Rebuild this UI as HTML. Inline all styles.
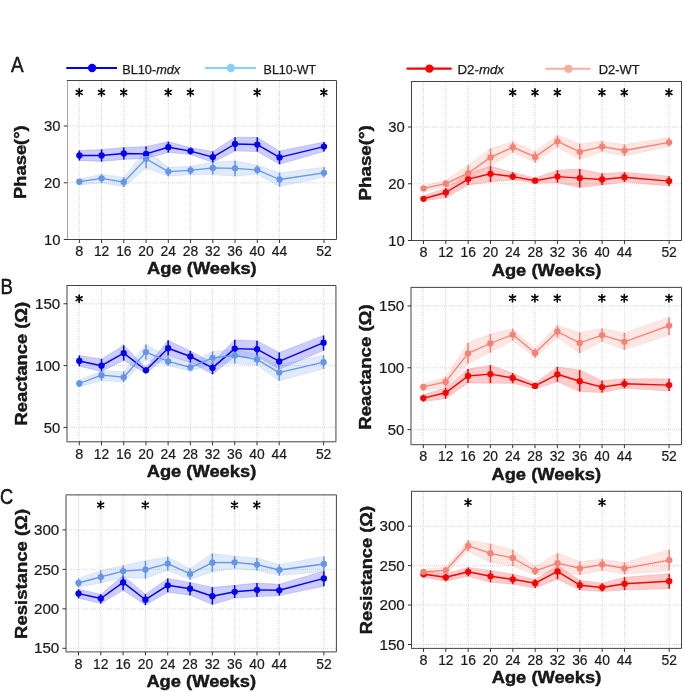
<!DOCTYPE html>
<html><head><meta charset="utf-8"><style>
html,body{margin:0;padding:0;background:#fff;}
body{width:685px;height:692px;overflow:hidden;}
svg{display:block;font-family:"Liberation Sans", sans-serif;will-change:transform;}
text{fill:#1a1a1a;}
.t{stroke:#1a1a1a;stroke-width:0.22;}
</style></head><body>
<svg width="685" height="692" viewBox="0 0 685 692">
<path d="M79.35 81V239.5M101.59 81V239.5M123.83 81V239.5M146.07 81V239.5M168.31 81V239.5M190.55 81V239.5M212.8 81V239.5M235.04 81V239.5M257.28 81V239.5M279.52 81V239.5M324 81V239.5M68 239.5H336.5M68 182.75H336.5M68 126H336.5" stroke="#d4d4d4" stroke-width="0.9" stroke-dasharray="1 1" fill="none"/>
<polygon points="79.35,150.5 101.59,149.6 123.83,147.6 146.07,146.6 168.31,141.7 190.55,147.6 212.8,151.5 235.04,137.3 257.28,137.3 279.52,151 324,142 324,151.5 279.52,164.3 257.28,151.5 235.04,151.1 212.8,162.4 190.55,154.5 168.31,152.5 146.07,158.4 123.83,159.4 101.59,161.4 79.35,160.4" fill="rgba(0,0,255,0.2)" stroke="rgba(0,0,255,0.2)" stroke-width="0.7" stroke-linejoin="round"/>
<polygon points="79.35,179.1 101.59,174.2 123.83,177.2 146.07,149.6 168.31,167.3 190.55,166.3 212.8,162.2 235.04,160.8 257.28,165.3 279.52,172.8 324,167.3 324,177.2 279.52,186.6 257.28,174.2 235.04,176.2 212.8,174.6 190.55,174.8 168.31,176.2 146.07,168.3 123.83,187 101.59,183 79.35,185" fill="rgba(100,149,237,0.2)" stroke="rgba(100,149,237,0.2)" stroke-width="0.7" stroke-linejoin="round"/>
<path d="M79.35 150.5V160.4M101.59 149.6V161.4M123.83 147.6V159.4M146.07 146.6V158.4M168.31 141.7V152.5M190.55 147.6V154.5M212.8 151.5V162.4M235.04 137.3V151.1M257.28 137.3V151.5M279.52 151V164.3M324 142V151.5" stroke="#0000ff" stroke-width="1.5" fill="none"/>
<path d="M79.35 179.1V185M101.59 174.2V183M123.83 177.2V187M146.07 149.6V168.3M168.31 167.3V176.2M190.55 166.3V174.8M212.8 162.2V174.6M235.04 160.8V176.2M257.28 165.3V174.2M279.52 172.8V186.6M324 167.3V177.2" stroke="#6495ed" stroke-width="1.5" fill="none"/>
<polyline points="79.35,155.5 101.59,155.5 123.83,153.5 146.07,153.9 168.31,147.2 190.55,151.1 212.8,157.1 235.04,144 257.28,144.6 279.52,157.4 324,146.6" stroke="#0000ff" stroke-width="1.45" fill="none" stroke-linejoin="round"/>
<circle cx="79.35" cy="155.5" r="3.15" fill="#0000ff"/>
<circle cx="101.59" cy="155.5" r="3.15" fill="#0000ff"/>
<circle cx="123.83" cy="153.5" r="3.15" fill="#0000ff"/>
<circle cx="146.07" cy="153.9" r="3.15" fill="#0000ff"/>
<circle cx="168.31" cy="147.2" r="3.15" fill="#0000ff"/>
<circle cx="190.55" cy="151.1" r="3.15" fill="#0000ff"/>
<circle cx="212.8" cy="157.1" r="3.15" fill="#0000ff"/>
<circle cx="235.04" cy="144" r="3.15" fill="#0000ff"/>
<circle cx="257.28" cy="144.6" r="3.15" fill="#0000ff"/>
<circle cx="279.52" cy="157.4" r="3.15" fill="#0000ff"/>
<circle cx="324" cy="146.6" r="3.15" fill="#0000ff"/>
<polyline points="79.35,181.7 101.59,178.3 123.83,182.1 146.07,158.8 168.31,171.6 190.55,170.3 212.8,167.9 235.04,168.3 257.28,169.9 279.52,179.5 324,172.8" stroke="#6495ed" stroke-width="1.3" fill="none" stroke-linejoin="round"/>
<circle cx="79.35" cy="181.7" r="3.15" fill="#6495ed"/>
<circle cx="101.59" cy="178.3" r="3.15" fill="#6495ed"/>
<circle cx="123.83" cy="182.1" r="3.15" fill="#6495ed"/>
<circle cx="146.07" cy="158.8" r="3.15" fill="#6495ed"/>
<circle cx="168.31" cy="171.6" r="3.15" fill="#6495ed"/>
<circle cx="190.55" cy="170.3" r="3.15" fill="#6495ed"/>
<circle cx="212.8" cy="167.9" r="3.15" fill="#6495ed"/>
<circle cx="235.04" cy="168.3" r="3.15" fill="#6495ed"/>
<circle cx="257.28" cy="169.9" r="3.15" fill="#6495ed"/>
<circle cx="279.52" cy="179.5" r="3.15" fill="#6495ed"/>
<circle cx="324" cy="172.8" r="3.15" fill="#6495ed"/>
<path d="M67.3 80.5H336.5V239.5H67.3" fill="none" stroke="#444" stroke-width="1" stroke-linejoin="miter" stroke-linecap="square"/>
<path d="M67.5 81V239" stroke="#a4a4a4" stroke-width="1"/>
<path d="M79.35 239.5v3.5M101.59 239.5v3.5M123.83 239.5v3.5M146.07 239.5v3.5M168.31 239.5v3.5M190.55 239.5v3.5M212.8 239.5v3.5M235.04 239.5v3.5M257.28 239.5v3.5M279.52 239.5v3.5M324 239.5v3.5M67.3 239.5h-3.5M67.3 182.75h-3.5M67.3 126h-3.5" stroke="#333" stroke-width="1"/>
<text class="t" x="79.35" y="256.2" text-anchor="middle" font-size="15.0" textLength="8.0" lengthAdjust="spacingAndGlyphs">8</text>
<text class="t" x="101.59" y="256.2" text-anchor="middle" font-size="15.0" textLength="15.4" lengthAdjust="spacingAndGlyphs">12</text>
<text class="t" x="123.83" y="256.2" text-anchor="middle" font-size="15.0" textLength="15.4" lengthAdjust="spacingAndGlyphs">16</text>
<text class="t" x="146.07" y="256.2" text-anchor="middle" font-size="15.0" textLength="15.4" lengthAdjust="spacingAndGlyphs">20</text>
<text class="t" x="168.31" y="256.2" text-anchor="middle" font-size="15.0" textLength="15.4" lengthAdjust="spacingAndGlyphs">24</text>
<text class="t" x="190.55" y="256.2" text-anchor="middle" font-size="15.0" textLength="15.4" lengthAdjust="spacingAndGlyphs">28</text>
<text class="t" x="212.8" y="256.2" text-anchor="middle" font-size="15.0" textLength="15.4" lengthAdjust="spacingAndGlyphs">32</text>
<text class="t" x="235.04" y="256.2" text-anchor="middle" font-size="15.0" textLength="15.4" lengthAdjust="spacingAndGlyphs">36</text>
<text class="t" x="257.28" y="256.2" text-anchor="middle" font-size="15.0" textLength="15.4" lengthAdjust="spacingAndGlyphs">40</text>
<text class="t" x="279.52" y="256.2" text-anchor="middle" font-size="15.0" textLength="15.4" lengthAdjust="spacingAndGlyphs">44</text>
<text class="t" x="324" y="256.2" text-anchor="middle" font-size="15.0" textLength="15.4" lengthAdjust="spacingAndGlyphs">52</text>
<text class="t" x="60.6" y="244.65" text-anchor="end" font-size="15.0" textLength="16.5" lengthAdjust="spacingAndGlyphs">10</text>
<text class="t" x="60.6" y="187.9" text-anchor="end" font-size="15.0" textLength="16.5" lengthAdjust="spacingAndGlyphs">20</text>
<text class="t" x="60.6" y="131.15" text-anchor="end" font-size="15.0" textLength="16.5" lengthAdjust="spacingAndGlyphs">30</text>
<text x="201.9" y="273.8" text-anchor="middle" font-size="15.6" font-weight="bold" stroke="#000" stroke-width="0.35" textLength="109.6" lengthAdjust="spacingAndGlyphs">Age (Weeks)</text>
<text transform="translate(25.5 162.15) rotate(-90)" x="0" y="0" text-anchor="middle" font-size="15.6" font-weight="bold" stroke="#000" stroke-width="0.35" textLength="73.7" lengthAdjust="spacingAndGlyphs">Phase(°)</text>
<path d="M79.2 88.7V96.1M76.22 90.47L82.18 94.33M76.22 94.33L82.18 90.47" stroke="#000" stroke-width="1.6" stroke-linecap="round"/>
<path d="M101.44 88.7V96.1M98.46 90.47L104.42 94.33M98.46 94.33L104.42 90.47" stroke="#000" stroke-width="1.6" stroke-linecap="round"/>
<path d="M123.68 88.7V96.1M120.7 90.47L126.66 94.33M120.7 94.33L126.66 90.47" stroke="#000" stroke-width="1.6" stroke-linecap="round"/>
<path d="M168.16 88.7V96.1M165.19 90.47L171.14 94.33M165.19 94.33L171.14 90.47" stroke="#000" stroke-width="1.6" stroke-linecap="round"/>
<path d="M190.4 88.7V96.1M187.43 90.47L193.38 94.33M187.43 94.33L193.38 90.47" stroke="#000" stroke-width="1.6" stroke-linecap="round"/>
<path d="M257.13 88.7V96.1M254.15 90.47L260.1 94.33M254.15 94.33L260.1 90.47" stroke="#000" stroke-width="1.6" stroke-linecap="round"/>
<path d="M323.85 88.7V96.1M320.87 90.47L326.83 94.33M320.87 94.33L326.83 90.47" stroke="#000" stroke-width="1.6" stroke-linecap="round"/>
<path d="M423.5 82V240.5M445.83 82V240.5M468.15 82V240.5M490.48 82V240.5M512.81 82V240.5M535.14 82V240.5M557.46 82V240.5M579.79 82V240.5M602.12 82V240.5M624.45 82V240.5M669.1 82V240.5M412 240.5H681.5M412 183.75H681.5M412 127H681.5" stroke="#d4d4d4" stroke-width="0.9" stroke-dasharray="1 1" fill="none"/>
<polygon points="423.5,195.9 445.83,188 468.15,173.2 490.48,166.3 512.81,172.2 535.14,178.1 557.46,170.3 579.79,168.9 602.12,173.6 624.45,172.2 669.1,176.2 669.1,186 624.45,182.1 602.12,185 579.79,187.4 557.46,182.7 535.14,183.1 512.81,180.1 490.48,182.1 468.15,185 445.83,197.8 423.5,200.8" fill="rgba(255,0,0,0.2)" stroke="rgba(255,0,0,0.2)" stroke-width="0.7" stroke-linejoin="round"/>
<polygon points="423.5,186 445.83,180.1 468.15,165.3 490.48,148.6 512.81,141.7 535.14,151.5 557.46,135.4 579.79,143.7 602.12,141.3 624.45,144.6 669.1,137.7 669.1,146.6 624.45,155.9 602.12,151.5 579.79,159.4 557.46,147.2 535.14,162.4 512.81,152.5 490.48,166.3 468.15,179.1 445.83,187 423.5,191" fill="rgba(250,128,114,0.2)" stroke="rgba(250,128,114,0.2)" stroke-width="0.7" stroke-linejoin="round"/>
<path d="M423.5 195.9V200.8M445.83 188V197.8M468.15 173.2V185M490.48 166.3V182.1M512.81 172.2V180.1M535.14 178.1V183.1M557.46 170.3V182.7M579.79 168.9V187.4M602.12 173.6V185M624.45 172.2V182.1M669.1 176.2V186" stroke="#ff0000" stroke-width="1.5" fill="none"/>
<path d="M423.5 186V191M445.83 180.1V187M468.15 165.3V179.1M490.48 148.6V166.3M512.81 141.7V152.5M535.14 151.5V162.4M557.46 135.4V147.2M579.79 143.7V159.4M602.12 141.3V151.5M624.45 144.6V155.9M669.1 137.7V146.6" stroke="#fa8072" stroke-width="1.5" fill="none"/>
<polyline points="423.5,198.8 445.83,192.5 468.15,179.1 490.48,173.8 512.81,176.6 535.14,180.7 557.46,176.6 579.79,178.1 602.12,179.5 624.45,177.2 669.1,181.1" stroke="#ff0000" stroke-width="1.45" fill="none" stroke-linejoin="round"/>
<circle cx="423.5" cy="198.8" r="3.15" fill="#ff0000"/>
<circle cx="445.83" cy="192.5" r="3.15" fill="#ff0000"/>
<circle cx="468.15" cy="179.1" r="3.15" fill="#ff0000"/>
<circle cx="490.48" cy="173.8" r="3.15" fill="#ff0000"/>
<circle cx="512.81" cy="176.6" r="3.15" fill="#ff0000"/>
<circle cx="535.14" cy="180.7" r="3.15" fill="#ff0000"/>
<circle cx="557.46" cy="176.6" r="3.15" fill="#ff0000"/>
<circle cx="579.79" cy="178.1" r="3.15" fill="#ff0000"/>
<circle cx="602.12" cy="179.5" r="3.15" fill="#ff0000"/>
<circle cx="624.45" cy="177.2" r="3.15" fill="#ff0000"/>
<circle cx="669.1" cy="181.1" r="3.15" fill="#ff0000"/>
<polyline points="423.5,188.4 445.83,183.7 468.15,173.2 490.48,157.4 512.81,147.2 535.14,156.9 557.46,141.3 579.79,151.9 602.12,146.6 624.45,150.5 669.1,142.3" stroke="#fa8072" stroke-width="1.3" fill="none" stroke-linejoin="round"/>
<circle cx="423.5" cy="188.4" r="3.15" fill="#fa8072"/>
<circle cx="445.83" cy="183.7" r="3.15" fill="#fa8072"/>
<circle cx="468.15" cy="173.2" r="3.15" fill="#fa8072"/>
<circle cx="490.48" cy="157.4" r="3.15" fill="#fa8072"/>
<circle cx="512.81" cy="147.2" r="3.15" fill="#fa8072"/>
<circle cx="535.14" cy="156.9" r="3.15" fill="#fa8072"/>
<circle cx="557.46" cy="141.3" r="3.15" fill="#fa8072"/>
<circle cx="579.79" cy="151.9" r="3.15" fill="#fa8072"/>
<circle cx="602.12" cy="146.6" r="3.15" fill="#fa8072"/>
<circle cx="624.45" cy="150.5" r="3.15" fill="#fa8072"/>
<circle cx="669.1" cy="142.3" r="3.15" fill="#fa8072"/>
<path d="M411.5 81.5H681.5V240.5H411.5" fill="none" stroke="#444" stroke-width="1" stroke-linejoin="miter" stroke-linecap="square"/>
<path d="M411.5 82V240" stroke="#444" stroke-width="1"/>
<path d="M423.5 240.5v3.5M445.83 240.5v3.5M468.15 240.5v3.5M490.48 240.5v3.5M512.81 240.5v3.5M535.14 240.5v3.5M557.46 240.5v3.5M579.79 240.5v3.5M602.12 240.5v3.5M624.45 240.5v3.5M669.1 240.5v3.5M411.5 240.5h-3.5M411.5 183.75h-3.5M411.5 127h-3.5" stroke="#333" stroke-width="1"/>
<text class="t" x="423.5" y="257.2" text-anchor="middle" font-size="15.0" textLength="8.0" lengthAdjust="spacingAndGlyphs">8</text>
<text class="t" x="445.83" y="257.2" text-anchor="middle" font-size="15.0" textLength="15.4" lengthAdjust="spacingAndGlyphs">12</text>
<text class="t" x="468.15" y="257.2" text-anchor="middle" font-size="15.0" textLength="15.4" lengthAdjust="spacingAndGlyphs">16</text>
<text class="t" x="490.48" y="257.2" text-anchor="middle" font-size="15.0" textLength="15.4" lengthAdjust="spacingAndGlyphs">20</text>
<text class="t" x="512.81" y="257.2" text-anchor="middle" font-size="15.0" textLength="15.4" lengthAdjust="spacingAndGlyphs">24</text>
<text class="t" x="535.14" y="257.2" text-anchor="middle" font-size="15.0" textLength="15.4" lengthAdjust="spacingAndGlyphs">28</text>
<text class="t" x="557.46" y="257.2" text-anchor="middle" font-size="15.0" textLength="15.4" lengthAdjust="spacingAndGlyphs">32</text>
<text class="t" x="579.79" y="257.2" text-anchor="middle" font-size="15.0" textLength="15.4" lengthAdjust="spacingAndGlyphs">36</text>
<text class="t" x="602.12" y="257.2" text-anchor="middle" font-size="15.0" textLength="15.4" lengthAdjust="spacingAndGlyphs">40</text>
<text class="t" x="624.45" y="257.2" text-anchor="middle" font-size="15.0" textLength="15.4" lengthAdjust="spacingAndGlyphs">44</text>
<text class="t" x="669.1" y="257.2" text-anchor="middle" font-size="15.0" textLength="15.4" lengthAdjust="spacingAndGlyphs">52</text>
<text class="t" x="404.8" y="245.65" text-anchor="end" font-size="15.0" textLength="16.5" lengthAdjust="spacingAndGlyphs">10</text>
<text class="t" x="404.8" y="188.9" text-anchor="end" font-size="15.0" textLength="16.5" lengthAdjust="spacingAndGlyphs">20</text>
<text class="t" x="404.8" y="132.15" text-anchor="end" font-size="15.0" textLength="16.5" lengthAdjust="spacingAndGlyphs">30</text>
<text x="546.5" y="275.9" text-anchor="middle" font-size="15.6" font-weight="bold" stroke="#000" stroke-width="0.35" textLength="109.6" lengthAdjust="spacingAndGlyphs">Age (Weeks)</text>
<text transform="translate(370.5 162.85) rotate(-90)" x="0" y="0" text-anchor="middle" font-size="15.6" font-weight="bold" stroke="#000" stroke-width="0.35" textLength="75.5" lengthAdjust="spacingAndGlyphs">Phase(°)</text>
<path d="M512.66 88.9V96.3M509.68 90.67L515.64 94.53M509.68 94.53L515.64 90.67" stroke="#000" stroke-width="1.6" stroke-linecap="round"/>
<path d="M534.99 88.9V96.3M532.01 90.67L537.96 94.53M532.01 94.53L537.96 90.67" stroke="#000" stroke-width="1.6" stroke-linecap="round"/>
<path d="M557.31 88.9V96.3M554.34 90.67L560.29 94.53M554.34 94.53L560.29 90.67" stroke="#000" stroke-width="1.6" stroke-linecap="round"/>
<path d="M601.97 88.9V96.3M598.99 90.67L604.95 94.53M598.99 94.53L604.95 90.67" stroke="#000" stroke-width="1.6" stroke-linecap="round"/>
<path d="M624.3 88.9V96.3M621.32 90.67L627.27 94.53M621.32 94.53L627.27 90.67" stroke="#000" stroke-width="1.6" stroke-linecap="round"/>
<path d="M668.95 88.9V96.3M665.97 90.67L671.93 94.53M665.97 94.53L671.93 90.67" stroke="#000" stroke-width="1.6" stroke-linecap="round"/>
<path d="M79.3 286V441.8M101.51 286V441.8M123.72 286V441.8M145.93 286V441.8M168.14 286V441.8M190.35 286V441.8M212.55 286V441.8M234.76 286V441.8M256.97 286V441.8M279.18 286V441.8M323.6 286V441.8M68 427.4H335.95M68 365.6H335.95M68 303.76H335.95" stroke="#d4d4d4" stroke-width="0.9" stroke-dasharray="1 1" fill="none"/>
<polygon points="79.3,355.5 101.51,359 123.72,345.2 145.93,367.3 168.14,340.3 190.35,351.1 212.55,362.4 234.76,339.7 256.97,340.7 279.18,352.5 323.6,335.4 323.6,350.5 279.18,369.3 256.97,356.5 234.76,356.5 212.55,374.2 190.35,362.4 168.14,355.5 145.93,373.2 123.72,360.4 101.51,371.6 79.3,366.3" fill="rgba(0,0,255,0.2)" stroke="rgba(0,0,255,0.2)" stroke-width="0.7" stroke-linejoin="round"/>
<polygon points="79.3,380.1 101.51,370.8 123.72,371.6 145.93,344.6 168.14,356.5 190.35,362.4 212.55,351.5 234.76,349.6 256.97,354.5 279.18,364.8 323.6,355.3 323.6,369 279.18,380.8 256.97,365.3 234.76,363.4 212.55,364.3 190.35,371.2 168.14,365.7 145.93,359.4 123.72,382.1 101.51,380.7 79.3,387" fill="rgba(100,149,237,0.2)" stroke="rgba(100,149,237,0.2)" stroke-width="0.7" stroke-linejoin="round"/>
<path d="M79.3 355.5V366.3M101.51 359V371.6M123.72 345.2V360.4M145.93 367.3V373.2M168.14 340.3V355.5M190.35 351.1V362.4M212.55 362.4V374.2M234.76 339.7V356.5M256.97 340.7V356.5M279.18 352.5V369.3M323.6 335.4V350.5" stroke="#0000ff" stroke-width="1.5" fill="none"/>
<path d="M79.3 380.1V387M101.51 370.8V380.7M123.72 371.6V382.1M145.93 344.6V359.4M168.14 356.5V365.7M190.35 362.4V371.2M212.55 351.5V364.3M234.76 349.6V363.4M256.97 354.5V365.3M279.18 364.8V380.8M323.6 355.3V369" stroke="#6495ed" stroke-width="1.5" fill="none"/>
<polyline points="79.3,361 101.51,365.7 123.72,353.1 145.93,370.3 168.14,348.2 190.35,356.5 212.55,367.9 234.76,348.6 256.97,349.2 279.18,361.4 323.6,342.7" stroke="#0000ff" stroke-width="1.45" fill="none" stroke-linejoin="round"/>
<circle cx="79.3" cy="361" r="3.15" fill="#0000ff"/>
<circle cx="101.51" cy="365.7" r="3.15" fill="#0000ff"/>
<circle cx="123.72" cy="353.1" r="3.15" fill="#0000ff"/>
<circle cx="145.93" cy="370.3" r="3.15" fill="#0000ff"/>
<circle cx="168.14" cy="348.2" r="3.15" fill="#0000ff"/>
<circle cx="190.35" cy="356.5" r="3.15" fill="#0000ff"/>
<circle cx="212.55" cy="367.9" r="3.15" fill="#0000ff"/>
<circle cx="234.76" cy="348.6" r="3.15" fill="#0000ff"/>
<circle cx="256.97" cy="349.2" r="3.15" fill="#0000ff"/>
<circle cx="279.18" cy="361.4" r="3.15" fill="#0000ff"/>
<circle cx="323.6" cy="342.7" r="3.15" fill="#0000ff"/>
<polyline points="79.3,383.5 101.51,375.2 123.72,377.2 145.93,352.1 168.14,361.4 190.35,367.3 212.55,357.8 234.76,355.5 256.97,359.4 279.18,372.6 323.6,362.2" stroke="#6495ed" stroke-width="1.3" fill="none" stroke-linejoin="round"/>
<circle cx="79.3" cy="383.5" r="3.15" fill="#6495ed"/>
<circle cx="101.51" cy="375.2" r="3.15" fill="#6495ed"/>
<circle cx="123.72" cy="377.2" r="3.15" fill="#6495ed"/>
<circle cx="145.93" cy="352.1" r="3.15" fill="#6495ed"/>
<circle cx="168.14" cy="361.4" r="3.15" fill="#6495ed"/>
<circle cx="190.35" cy="367.3" r="3.15" fill="#6495ed"/>
<circle cx="212.55" cy="357.8" r="3.15" fill="#6495ed"/>
<circle cx="234.76" cy="355.5" r="3.15" fill="#6495ed"/>
<circle cx="256.97" cy="359.4" r="3.15" fill="#6495ed"/>
<circle cx="279.18" cy="372.6" r="3.15" fill="#6495ed"/>
<circle cx="323.6" cy="362.2" r="3.15" fill="#6495ed"/>
<path d="M67 285.5H335.95V441.8H67" fill="none" stroke="#444" stroke-width="1" stroke-linejoin="miter" stroke-linecap="square"/>
<path d="M67 286V441.3" stroke="#444" stroke-width="1"/>
<path d="M79.3 441.8v3.5M101.51 441.8v3.5M123.72 441.8v3.5M145.93 441.8v3.5M168.14 441.8v3.5M190.35 441.8v3.5M212.55 441.8v3.5M234.76 441.8v3.5M256.97 441.8v3.5M279.18 441.8v3.5M323.6 441.8v3.5M67 427.4h-3.5M67 365.6h-3.5M67 303.76h-3.5" stroke="#333" stroke-width="1"/>
<text class="t" x="79.3" y="458.5" text-anchor="middle" font-size="15.0" textLength="8.0" lengthAdjust="spacingAndGlyphs">8</text>
<text class="t" x="101.51" y="458.5" text-anchor="middle" font-size="15.0" textLength="15.4" lengthAdjust="spacingAndGlyphs">12</text>
<text class="t" x="123.72" y="458.5" text-anchor="middle" font-size="15.0" textLength="15.4" lengthAdjust="spacingAndGlyphs">16</text>
<text class="t" x="145.93" y="458.5" text-anchor="middle" font-size="15.0" textLength="15.4" lengthAdjust="spacingAndGlyphs">20</text>
<text class="t" x="168.14" y="458.5" text-anchor="middle" font-size="15.0" textLength="15.4" lengthAdjust="spacingAndGlyphs">24</text>
<text class="t" x="190.35" y="458.5" text-anchor="middle" font-size="15.0" textLength="15.4" lengthAdjust="spacingAndGlyphs">28</text>
<text class="t" x="212.55" y="458.5" text-anchor="middle" font-size="15.0" textLength="15.4" lengthAdjust="spacingAndGlyphs">32</text>
<text class="t" x="234.76" y="458.5" text-anchor="middle" font-size="15.0" textLength="15.4" lengthAdjust="spacingAndGlyphs">36</text>
<text class="t" x="256.97" y="458.5" text-anchor="middle" font-size="15.0" textLength="15.4" lengthAdjust="spacingAndGlyphs">40</text>
<text class="t" x="279.18" y="458.5" text-anchor="middle" font-size="15.0" textLength="15.4" lengthAdjust="spacingAndGlyphs">44</text>
<text class="t" x="323.6" y="458.5" text-anchor="middle" font-size="15.0" textLength="15.4" lengthAdjust="spacingAndGlyphs">52</text>
<text class="t" x="60.3" y="432.55" text-anchor="end" font-size="15.0" textLength="16.5" lengthAdjust="spacingAndGlyphs">50</text>
<text class="t" x="60.3" y="370.75" text-anchor="end" font-size="15.0" textLength="25.3" lengthAdjust="spacingAndGlyphs">100</text>
<text class="t" x="60.3" y="308.91" text-anchor="end" font-size="15.0" textLength="25.3" lengthAdjust="spacingAndGlyphs">150</text>
<text x="201.47" y="476.7" text-anchor="middle" font-size="15.6" font-weight="bold" stroke="#000" stroke-width="0.35" textLength="109.6" lengthAdjust="spacingAndGlyphs">Age (Weeks)</text>
<text transform="translate(26.7 363.7) rotate(-90)" x="0" y="0" text-anchor="middle" font-size="15.6" font-weight="bold" stroke="#000" stroke-width="0.35" textLength="123.4" lengthAdjust="spacingAndGlyphs">Reactance (Ω)</text>
<path d="M79.15 295V302.4M76.17 296.77L82.13 300.63M76.17 300.63L82.13 296.77" stroke="#000" stroke-width="1.6" stroke-linecap="round"/>
<path d="M423.3 288V444.7M445.65 288V444.7M467.99 288V444.7M490.34 288V444.7M512.68 288V444.7M535.03 288V444.7M557.37 288V444.7M579.72 288V444.7M602.06 288V444.7M624.41 288V444.7M669.1 288V444.7M412 429.6H681.5M412 367.77H681.5M412 305.94H681.5" stroke="#d4d4d4" stroke-width="0.9" stroke-dasharray="1 1" fill="none"/>
<polygon points="423.3,394.7 445.65,387.8 467.99,369.1 490.34,365.2 512.68,373.1 535.03,382.9 557.37,367 579.72,370 602.06,380.8 624.41,378.8 669.1,378.8 669.1,391 624.41,388.3 602.06,392.6 579.72,391.6 557.37,381.8 535.03,388.8 512.68,383.3 490.34,383.3 467.99,382.9 445.65,398.7 423.3,401.6" fill="rgba(255,0,0,0.2)" stroke="rgba(255,0,0,0.2)" stroke-width="0.7" stroke-linejoin="round"/>
<polygon points="423.3,383.9 445.65,377 467.99,343.1 490.34,334 512.68,328.7 535.03,348.4 557.37,325.6 579.72,332.5 602.06,328.6 624.41,333.1 669.1,317.3 669.1,335.1 624.41,349.7 602.06,341.4 579.72,353.2 557.37,337.4 535.03,357.7 512.68,340.5 490.34,352.4 467.99,363.6 445.65,386.9 423.3,390.8" fill="rgba(250,128,114,0.2)" stroke="rgba(250,128,114,0.2)" stroke-width="0.7" stroke-linejoin="round"/>
<path d="M423.3 394.7V401.6M445.65 387.8V398.7M467.99 369.1V382.9M490.34 365.2V383.3M512.68 373.1V383.3M535.03 382.9V388.8M557.37 367V381.8M579.72 370V391.6M602.06 380.8V392.6M624.41 378.8V388.3M669.1 378.8V391" stroke="#ff0000" stroke-width="1.5" fill="none"/>
<path d="M423.3 383.9V390.8M445.65 377V386.9M467.99 343.1V363.6M490.34 334V352.4M512.68 328.7V340.5M535.03 348.4V357.7M557.37 325.6V337.4M579.72 332.5V353.2M602.06 328.6V341.4M624.41 333.1V349.7M669.1 317.3V335.1" stroke="#fa8072" stroke-width="1.5" fill="none"/>
<polyline points="423.3,398.1 445.65,392.8 467.99,376 490.34,374.1 512.68,378 535.03,385.9 557.37,374.3 579.72,381.2 602.06,387.1 624.41,383.8 669.1,385.1" stroke="#ff0000" stroke-width="1.45" fill="none" stroke-linejoin="round"/>
<circle cx="423.3" cy="398.1" r="3.15" fill="#ff0000"/>
<circle cx="445.65" cy="392.8" r="3.15" fill="#ff0000"/>
<circle cx="467.99" cy="376" r="3.15" fill="#ff0000"/>
<circle cx="490.34" cy="374.1" r="3.15" fill="#ff0000"/>
<circle cx="512.68" cy="378" r="3.15" fill="#ff0000"/>
<circle cx="535.03" cy="385.9" r="3.15" fill="#ff0000"/>
<circle cx="557.37" cy="374.3" r="3.15" fill="#ff0000"/>
<circle cx="579.72" cy="381.2" r="3.15" fill="#ff0000"/>
<circle cx="602.06" cy="387.1" r="3.15" fill="#ff0000"/>
<circle cx="624.41" cy="383.8" r="3.15" fill="#ff0000"/>
<circle cx="669.1" cy="385.1" r="3.15" fill="#ff0000"/>
<polyline points="423.3,386.9 445.65,381.9 467.99,353.4 490.34,343.5 512.68,334.6 535.03,353 557.37,331.5 579.72,343 602.06,335.1 624.41,341.8 669.1,325.6" stroke="#fa8072" stroke-width="1.3" fill="none" stroke-linejoin="round"/>
<circle cx="423.3" cy="386.9" r="3.15" fill="#fa8072"/>
<circle cx="445.65" cy="381.9" r="3.15" fill="#fa8072"/>
<circle cx="467.99" cy="353.4" r="3.15" fill="#fa8072"/>
<circle cx="490.34" cy="343.5" r="3.15" fill="#fa8072"/>
<circle cx="512.68" cy="334.6" r="3.15" fill="#fa8072"/>
<circle cx="535.03" cy="353" r="3.15" fill="#fa8072"/>
<circle cx="557.37" cy="331.5" r="3.15" fill="#fa8072"/>
<circle cx="579.72" cy="343" r="3.15" fill="#fa8072"/>
<circle cx="602.06" cy="335.1" r="3.15" fill="#fa8072"/>
<circle cx="624.41" cy="341.8" r="3.15" fill="#fa8072"/>
<circle cx="669.1" cy="325.6" r="3.15" fill="#fa8072"/>
<path d="M411 287.4H681.5V444.7H411" fill="none" stroke="#444" stroke-width="1" stroke-linejoin="miter" stroke-linecap="square"/>
<path d="M411 287.9V444.2" stroke="#444" stroke-width="1"/>
<path d="M423.3 444.7v3.5M445.65 444.7v3.5M467.99 444.7v3.5M490.34 444.7v3.5M512.68 444.7v3.5M535.03 444.7v3.5M557.37 444.7v3.5M579.72 444.7v3.5M602.06 444.7v3.5M624.41 444.7v3.5M669.1 444.7v3.5M411 429.6h-3.5M411 367.77h-3.5M411 305.94h-3.5" stroke="#333" stroke-width="1"/>
<text class="t" x="423.3" y="461.4" text-anchor="middle" font-size="15.0" textLength="8.0" lengthAdjust="spacingAndGlyphs">8</text>
<text class="t" x="445.65" y="461.4" text-anchor="middle" font-size="15.0" textLength="15.4" lengthAdjust="spacingAndGlyphs">12</text>
<text class="t" x="467.99" y="461.4" text-anchor="middle" font-size="15.0" textLength="15.4" lengthAdjust="spacingAndGlyphs">16</text>
<text class="t" x="490.34" y="461.4" text-anchor="middle" font-size="15.0" textLength="15.4" lengthAdjust="spacingAndGlyphs">20</text>
<text class="t" x="512.68" y="461.4" text-anchor="middle" font-size="15.0" textLength="15.4" lengthAdjust="spacingAndGlyphs">24</text>
<text class="t" x="535.03" y="461.4" text-anchor="middle" font-size="15.0" textLength="15.4" lengthAdjust="spacingAndGlyphs">28</text>
<text class="t" x="557.37" y="461.4" text-anchor="middle" font-size="15.0" textLength="15.4" lengthAdjust="spacingAndGlyphs">32</text>
<text class="t" x="579.72" y="461.4" text-anchor="middle" font-size="15.0" textLength="15.4" lengthAdjust="spacingAndGlyphs">36</text>
<text class="t" x="602.06" y="461.4" text-anchor="middle" font-size="15.0" textLength="15.4" lengthAdjust="spacingAndGlyphs">40</text>
<text class="t" x="624.41" y="461.4" text-anchor="middle" font-size="15.0" textLength="15.4" lengthAdjust="spacingAndGlyphs">44</text>
<text class="t" x="669.1" y="461.4" text-anchor="middle" font-size="15.0" textLength="15.4" lengthAdjust="spacingAndGlyphs">52</text>
<text class="t" x="404.3" y="434.75" text-anchor="end" font-size="15.0" textLength="16.5" lengthAdjust="spacingAndGlyphs">50</text>
<text class="t" x="404.3" y="372.92" text-anchor="end" font-size="15.0" textLength="25.3" lengthAdjust="spacingAndGlyphs">100</text>
<text class="t" x="404.3" y="311.09" text-anchor="end" font-size="15.0" textLength="25.3" lengthAdjust="spacingAndGlyphs">150</text>
<text x="546.25" y="479.7" text-anchor="middle" font-size="15.6" font-weight="bold" stroke="#000" stroke-width="0.35" textLength="109.6" lengthAdjust="spacingAndGlyphs">Age (Weeks)</text>
<text transform="translate(371.2 367.05) rotate(-90)" x="0" y="0" text-anchor="middle" font-size="15.6" font-weight="bold" stroke="#000" stroke-width="0.35" textLength="125.5" lengthAdjust="spacingAndGlyphs">Reactance (Ω)</text>
<path d="M512.53 294.5V301.9M509.55 296.27L515.51 300.13M509.55 300.13L515.51 296.27" stroke="#000" stroke-width="1.6" stroke-linecap="round"/>
<path d="M534.88 294.5V301.9M531.9 296.27L537.85 300.13M531.9 300.13L537.85 296.27" stroke="#000" stroke-width="1.6" stroke-linecap="round"/>
<path d="M557.22 294.5V301.9M554.25 296.27L560.2 300.13M554.25 300.13L560.2 296.27" stroke="#000" stroke-width="1.6" stroke-linecap="round"/>
<path d="M601.91 294.5V301.9M598.94 296.27L604.89 300.13M598.94 300.13L604.89 296.27" stroke="#000" stroke-width="1.6" stroke-linecap="round"/>
<path d="M624.26 294.5V301.9M621.28 296.27L627.24 300.13M621.28 300.13L627.24 296.27" stroke="#000" stroke-width="1.6" stroke-linecap="round"/>
<path d="M668.95 294.5V301.9M665.97 296.27L671.93 300.13M665.97 300.13L671.93 296.27" stroke="#000" stroke-width="1.6" stroke-linecap="round"/>
<path d="M78.5 495V651.9M100.81 495V651.9M123.12 495V651.9M145.43 495V651.9M167.74 495V651.9M190.05 495V651.9M212.35 495V651.9M234.66 495V651.9M256.97 495V651.9M279.28 495V651.9M323.9 495V651.9M67 648.3H336.4M67 608.83H336.4M67 569.37H336.4M67 529.9H336.4" stroke="#d4d4d4" stroke-width="0.9" stroke-dasharray="1 1" fill="none"/>
<polygon points="78.5,589.2 100.81,594.2 123.12,575.5 145.43,594.2 167.74,578.4 190.05,582.4 212.35,587.3 234.66,585.3 256.97,583 279.28,584.3 323.9,571.1 323.9,586.3 279.28,595.6 256.97,596.8 234.66,598.1 212.35,604.6 190.05,595.2 167.74,592.2 145.43,605 123.12,590.3 100.81,603.5 78.5,598.2" fill="rgba(0,0,255,0.2)" stroke="rgba(0,0,255,0.2)" stroke-width="0.7" stroke-linejoin="round"/>
<polygon points="78.5,578.4 100.81,570.5 123.12,565.6 145.43,560.7 167.74,556.8 190.05,568.6 212.35,553.4 234.66,556.2 256.97,558.1 279.28,564.6 323.9,556.4 323.9,571.5 279.28,575.5 256.97,570.5 234.66,568.6 212.35,571.9 190.05,579.4 167.74,570.5 145.43,578.4 123.12,577.4 100.81,583 78.5,587.3" fill="rgba(100,149,237,0.2)" stroke="rgba(100,149,237,0.2)" stroke-width="0.7" stroke-linejoin="round"/>
<path d="M78.5 589.2V598.2M100.81 594.2V603.5M123.12 575.5V590.3M145.43 594.2V605M167.74 578.4V592.2M190.05 582.4V595.2M212.35 587.3V604.6M234.66 585.3V598.1M256.97 583V596.8M279.28 584.3V595.6M323.9 571.1V586.3" stroke="#0000ff" stroke-width="1.5" fill="none"/>
<path d="M78.5 578.4V587.3M100.81 570.5V583M123.12 565.6V577.4M145.43 560.7V578.4M167.74 556.8V570.5M190.05 568.6V579.4M212.35 553.4V571.9M234.66 556.2V568.6M256.97 558.1V570.5M279.28 564.6V575.5M323.9 556.4V571.5" stroke="#6495ed" stroke-width="1.5" fill="none"/>
<polyline points="78.5,593.6 100.81,598.5 123.12,582.4 145.43,599.7 167.74,585.3 190.05,588.7 212.35,596.2 234.66,591.8 256.97,589.9 279.28,590.3 323.9,578.4" stroke="#0000ff" stroke-width="1.45" fill="none" stroke-linejoin="round"/>
<circle cx="78.5" cy="593.6" r="3.15" fill="#0000ff"/>
<circle cx="100.81" cy="598.5" r="3.15" fill="#0000ff"/>
<circle cx="123.12" cy="582.4" r="3.15" fill="#0000ff"/>
<circle cx="145.43" cy="599.7" r="3.15" fill="#0000ff"/>
<circle cx="167.74" cy="585.3" r="3.15" fill="#0000ff"/>
<circle cx="190.05" cy="588.7" r="3.15" fill="#0000ff"/>
<circle cx="212.35" cy="596.2" r="3.15" fill="#0000ff"/>
<circle cx="234.66" cy="591.8" r="3.15" fill="#0000ff"/>
<circle cx="256.97" cy="589.9" r="3.15" fill="#0000ff"/>
<circle cx="279.28" cy="590.3" r="3.15" fill="#0000ff"/>
<circle cx="323.9" cy="578.4" r="3.15" fill="#0000ff"/>
<polyline points="78.5,583 100.81,576.9 123.12,571.1 145.43,569.6 167.74,563.6 190.05,573.9 212.35,562.7 234.66,562.3 256.97,564.6 279.28,570 323.9,564" stroke="#6495ed" stroke-width="1.3" fill="none" stroke-linejoin="round"/>
<circle cx="78.5" cy="583" r="3.15" fill="#6495ed"/>
<circle cx="100.81" cy="576.9" r="3.15" fill="#6495ed"/>
<circle cx="123.12" cy="571.1" r="3.15" fill="#6495ed"/>
<circle cx="145.43" cy="569.6" r="3.15" fill="#6495ed"/>
<circle cx="167.74" cy="563.6" r="3.15" fill="#6495ed"/>
<circle cx="190.05" cy="573.9" r="3.15" fill="#6495ed"/>
<circle cx="212.35" cy="562.7" r="3.15" fill="#6495ed"/>
<circle cx="234.66" cy="562.3" r="3.15" fill="#6495ed"/>
<circle cx="256.97" cy="564.6" r="3.15" fill="#6495ed"/>
<circle cx="279.28" cy="570" r="3.15" fill="#6495ed"/>
<circle cx="323.9" cy="564" r="3.15" fill="#6495ed"/>
<path d="M66 494.9H336.4V651.9H66" fill="none" stroke="#444" stroke-width="1" stroke-linejoin="miter" stroke-linecap="square"/>
<path d="M66 495.4V651.4" stroke="#444" stroke-width="1"/>
<path d="M78.5 651.9v3.5M100.81 651.9v3.5M123.12 651.9v3.5M145.43 651.9v3.5M167.74 651.9v3.5M190.05 651.9v3.5M212.35 651.9v3.5M234.66 651.9v3.5M256.97 651.9v3.5M279.28 651.9v3.5M323.9 651.9v3.5M66 648.3h-3.5M66 608.83h-3.5M66 569.37h-3.5M66 529.9h-3.5" stroke="#333" stroke-width="1"/>
<text class="t" x="78.5" y="668.6" text-anchor="middle" font-size="15.0" textLength="8.0" lengthAdjust="spacingAndGlyphs">8</text>
<text class="t" x="100.81" y="668.6" text-anchor="middle" font-size="15.0" textLength="15.4" lengthAdjust="spacingAndGlyphs">12</text>
<text class="t" x="123.12" y="668.6" text-anchor="middle" font-size="15.0" textLength="15.4" lengthAdjust="spacingAndGlyphs">16</text>
<text class="t" x="145.43" y="668.6" text-anchor="middle" font-size="15.0" textLength="15.4" lengthAdjust="spacingAndGlyphs">20</text>
<text class="t" x="167.74" y="668.6" text-anchor="middle" font-size="15.0" textLength="15.4" lengthAdjust="spacingAndGlyphs">24</text>
<text class="t" x="190.05" y="668.6" text-anchor="middle" font-size="15.0" textLength="15.4" lengthAdjust="spacingAndGlyphs">28</text>
<text class="t" x="212.35" y="668.6" text-anchor="middle" font-size="15.0" textLength="15.4" lengthAdjust="spacingAndGlyphs">32</text>
<text class="t" x="234.66" y="668.6" text-anchor="middle" font-size="15.0" textLength="15.4" lengthAdjust="spacingAndGlyphs">36</text>
<text class="t" x="256.97" y="668.6" text-anchor="middle" font-size="15.0" textLength="15.4" lengthAdjust="spacingAndGlyphs">40</text>
<text class="t" x="279.28" y="668.6" text-anchor="middle" font-size="15.0" textLength="15.4" lengthAdjust="spacingAndGlyphs">44</text>
<text class="t" x="323.9" y="668.6" text-anchor="middle" font-size="15.0" textLength="15.4" lengthAdjust="spacingAndGlyphs">52</text>
<text class="t" x="59.3" y="653.45" text-anchor="end" font-size="15.0" textLength="25.3" lengthAdjust="spacingAndGlyphs">150</text>
<text class="t" x="59.3" y="613.98" text-anchor="end" font-size="15.0" textLength="25.3" lengthAdjust="spacingAndGlyphs">200</text>
<text class="t" x="59.3" y="574.52" text-anchor="end" font-size="15.0" textLength="25.3" lengthAdjust="spacingAndGlyphs">250</text>
<text class="t" x="59.3" y="535.05" text-anchor="end" font-size="15.0" textLength="25.3" lengthAdjust="spacingAndGlyphs">300</text>
<text x="201.2" y="687" text-anchor="middle" font-size="15.6" font-weight="bold" stroke="#000" stroke-width="0.35" textLength="109.6" lengthAdjust="spacingAndGlyphs">Age (Weeks)</text>
<text transform="translate(27 573.9) rotate(-90)" x="0" y="0" text-anchor="middle" font-size="15.6" font-weight="bold" stroke="#000" stroke-width="0.35" textLength="130" lengthAdjust="spacingAndGlyphs">Resistance (Ω)</text>
<path d="M100.66 501.3V508.7M97.68 503.07L103.64 506.93M97.68 506.93L103.64 503.07" stroke="#000" stroke-width="1.6" stroke-linecap="round"/>
<path d="M145.28 501.3V508.7M142.3 503.07L148.25 506.93M142.3 506.93L148.25 503.07" stroke="#000" stroke-width="1.6" stroke-linecap="round"/>
<path d="M234.51 501.3V508.7M231.54 503.07L237.49 506.93M231.54 506.93L237.49 503.07" stroke="#000" stroke-width="1.6" stroke-linecap="round"/>
<path d="M256.82 501.3V508.7M253.85 503.07L259.8 506.93M253.85 506.93L259.8 503.07" stroke="#000" stroke-width="1.6" stroke-linecap="round"/>
<path d="M423.5 492V648.4M445.84 492V648.4M468.17 492V648.4M490.51 492V648.4M512.85 492V648.4M535.18 492V648.4M557.52 492V648.4M579.85 492V648.4M602.19 492V648.4M624.53 492V648.4M669.2 492V648.4M412 644.5H681.5M412 605.07H681.5M412 565.63H681.5M412 526.2H681.5" stroke="#d4d4d4" stroke-width="0.9" stroke-dasharray="1 1" fill="none"/>
<polygon points="423.5,571.4 445.84,573.8 468.17,567.4 490.51,570.4 512.85,574.3 535.18,579.3 557.52,565.5 579.85,580.3 602.19,583.2 624.53,577.3 669.2,573.8 669.2,588.7 624.53,590.1 602.19,591.5 579.85,590.1 557.52,579.3 535.18,588.1 512.85,584.2 490.51,582.2 468.17,576.3 445.84,581.2 423.5,577.3" fill="rgba(255,0,0,0.2)" stroke="rgba(255,0,0,0.2)" stroke-width="0.7" stroke-linejoin="round"/>
<polygon points="423.5,569.4 445.84,567 468.17,540.2 490.51,543.8 512.85,549.7 535.18,566.5 557.52,553.3 579.85,561.5 602.19,559.2 624.53,562.5 669.2,549.7 669.2,570.4 624.53,574.3 602.19,570.4 579.85,574.9 557.52,571.4 535.18,574.9 512.85,565.9 490.51,562.5 468.17,551.3 445.84,573.8 423.5,574.9" fill="rgba(250,128,114,0.2)" stroke="rgba(250,128,114,0.2)" stroke-width="0.7" stroke-linejoin="round"/>
<path d="M423.5 571.4V577.3M445.84 573.8V581.2M468.17 567.4V576.3M490.51 570.4V582.2M512.85 574.3V584.2M535.18 579.3V588.1M557.52 565.5V579.3M579.85 580.3V590.1M602.19 583.2V591.5M624.53 577.3V590.1M669.2 573.8V588.7" stroke="#ff0000" stroke-width="1.5" fill="none"/>
<path d="M423.5 569.4V574.9M445.84 567V573.8M468.17 540.2V551.3M490.51 543.8V562.5M512.85 549.7V565.9M535.18 566.5V574.9M557.52 553.3V571.4M579.85 561.5V574.9M602.19 559.2V570.4M624.53 562.5V574.3M669.2 549.7V570.4" stroke="#fa8072" stroke-width="1.5" fill="none"/>
<polyline points="423.5,574.3 445.84,577.3 468.17,571.8 490.51,576.3 512.85,579.3 535.18,583.2 557.52,571.4 579.85,585.2 602.19,587.5 624.53,583.8 669.2,581.2" stroke="#ff0000" stroke-width="1.45" fill="none" stroke-linejoin="round"/>
<circle cx="423.5" cy="574.3" r="3.15" fill="#ff0000"/>
<circle cx="445.84" cy="577.3" r="3.15" fill="#ff0000"/>
<circle cx="468.17" cy="571.8" r="3.15" fill="#ff0000"/>
<circle cx="490.51" cy="576.3" r="3.15" fill="#ff0000"/>
<circle cx="512.85" cy="579.3" r="3.15" fill="#ff0000"/>
<circle cx="535.18" cy="583.2" r="3.15" fill="#ff0000"/>
<circle cx="557.52" cy="571.4" r="3.15" fill="#ff0000"/>
<circle cx="579.85" cy="585.2" r="3.15" fill="#ff0000"/>
<circle cx="602.19" cy="587.5" r="3.15" fill="#ff0000"/>
<circle cx="624.53" cy="583.8" r="3.15" fill="#ff0000"/>
<circle cx="669.2" cy="581.2" r="3.15" fill="#ff0000"/>
<polyline points="423.5,572 445.84,570.4 468.17,545.8 490.51,553.3 512.85,558 535.18,570.8 557.52,563.1 579.85,568.4 602.19,564.5 624.53,568.4 669.2,560.2" stroke="#fa8072" stroke-width="1.3" fill="none" stroke-linejoin="round"/>
<circle cx="423.5" cy="572" r="3.15" fill="#fa8072"/>
<circle cx="445.84" cy="570.4" r="3.15" fill="#fa8072"/>
<circle cx="468.17" cy="545.8" r="3.15" fill="#fa8072"/>
<circle cx="490.51" cy="553.3" r="3.15" fill="#fa8072"/>
<circle cx="512.85" cy="558" r="3.15" fill="#fa8072"/>
<circle cx="535.18" cy="570.8" r="3.15" fill="#fa8072"/>
<circle cx="557.52" cy="563.1" r="3.15" fill="#fa8072"/>
<circle cx="579.85" cy="568.4" r="3.15" fill="#fa8072"/>
<circle cx="602.19" cy="564.5" r="3.15" fill="#fa8072"/>
<circle cx="624.53" cy="568.4" r="3.15" fill="#fa8072"/>
<circle cx="669.2" cy="560.2" r="3.15" fill="#fa8072"/>
<path d="M411.5 491.3H681.5V648.4H411.5" fill="none" stroke="#444" stroke-width="1" stroke-linejoin="miter" stroke-linecap="square"/>
<path d="M411.5 491.8V647.9" stroke="#444" stroke-width="1"/>
<path d="M423.5 648.4v3.5M445.84 648.4v3.5M468.17 648.4v3.5M490.51 648.4v3.5M512.85 648.4v3.5M535.18 648.4v3.5M557.52 648.4v3.5M579.85 648.4v3.5M602.19 648.4v3.5M624.53 648.4v3.5M669.2 648.4v3.5M411.5 644.5h-3.5M411.5 605.07h-3.5M411.5 565.63h-3.5M411.5 526.2h-3.5" stroke="#333" stroke-width="1"/>
<text class="t" x="423.5" y="665.1" text-anchor="middle" font-size="15.0" textLength="8.0" lengthAdjust="spacingAndGlyphs">8</text>
<text class="t" x="445.84" y="665.1" text-anchor="middle" font-size="15.0" textLength="15.4" lengthAdjust="spacingAndGlyphs">12</text>
<text class="t" x="468.17" y="665.1" text-anchor="middle" font-size="15.0" textLength="15.4" lengthAdjust="spacingAndGlyphs">16</text>
<text class="t" x="490.51" y="665.1" text-anchor="middle" font-size="15.0" textLength="15.4" lengthAdjust="spacingAndGlyphs">20</text>
<text class="t" x="512.85" y="665.1" text-anchor="middle" font-size="15.0" textLength="15.4" lengthAdjust="spacingAndGlyphs">24</text>
<text class="t" x="535.18" y="665.1" text-anchor="middle" font-size="15.0" textLength="15.4" lengthAdjust="spacingAndGlyphs">28</text>
<text class="t" x="557.52" y="665.1" text-anchor="middle" font-size="15.0" textLength="15.4" lengthAdjust="spacingAndGlyphs">32</text>
<text class="t" x="579.85" y="665.1" text-anchor="middle" font-size="15.0" textLength="15.4" lengthAdjust="spacingAndGlyphs">36</text>
<text class="t" x="602.19" y="665.1" text-anchor="middle" font-size="15.0" textLength="15.4" lengthAdjust="spacingAndGlyphs">40</text>
<text class="t" x="624.53" y="665.1" text-anchor="middle" font-size="15.0" textLength="15.4" lengthAdjust="spacingAndGlyphs">44</text>
<text class="t" x="669.2" y="665.1" text-anchor="middle" font-size="15.0" textLength="15.4" lengthAdjust="spacingAndGlyphs">52</text>
<text class="t" x="404.8" y="649.65" text-anchor="end" font-size="15.0" textLength="25.3" lengthAdjust="spacingAndGlyphs">150</text>
<text class="t" x="404.8" y="610.22" text-anchor="end" font-size="15.0" textLength="25.3" lengthAdjust="spacingAndGlyphs">200</text>
<text class="t" x="404.8" y="570.78" text-anchor="end" font-size="15.0" textLength="25.3" lengthAdjust="spacingAndGlyphs">250</text>
<text class="t" x="404.8" y="531.35" text-anchor="end" font-size="15.0" textLength="25.3" lengthAdjust="spacingAndGlyphs">300</text>
<text x="546.5" y="682.9" text-anchor="middle" font-size="15.6" font-weight="bold" stroke="#000" stroke-width="0.35" textLength="109.6" lengthAdjust="spacingAndGlyphs">Age (Weeks)</text>
<text transform="translate(371.6 570.15) rotate(-90)" x="0" y="0" text-anchor="middle" font-size="15.6" font-weight="bold" stroke="#000" stroke-width="0.35" textLength="128.3" lengthAdjust="spacingAndGlyphs">Resistance (Ω)</text>
<path d="M468.02 498.8V506.2M465.05 500.57L471 504.43M465.05 504.43L471 500.57" stroke="#000" stroke-width="1.6" stroke-linecap="round"/>
<path d="M602.04 498.8V506.2M599.06 500.57L605.02 504.43M599.06 504.43L605.02 500.57" stroke="#000" stroke-width="1.6" stroke-linecap="round"/>
<path d="M66.3 68H117" stroke="#0000ff" stroke-width="2.1"/>
<circle cx="92.1" cy="68" r="4.15" fill="#0000ff"/>
<text x="122.2" y="73.5" font-size="12.5" stroke="#1a1a1a" stroke-width="0.25" textLength="58" lengthAdjust="spacingAndGlyphs">BL10-<tspan font-style="italic">mdx</tspan></text>
<path d="M204.8 68H256" stroke="#87cefa" stroke-width="1.9"/>
<circle cx="230.8" cy="68" r="4.15" fill="#87cefa"/>
<text x="263.6" y="73.5" font-size="12.5" stroke="#1a1a1a" stroke-width="0.25" textLength="52.6" lengthAdjust="spacingAndGlyphs">BL10-WT</text>
<path d="M406.6 68.6H451.6" stroke="#ff0000" stroke-width="2.1"/>
<circle cx="429.45" cy="68.6" r="4.15" fill="#ff0000"/>
<text x="457.5" y="74.1" font-size="12.5" stroke="#1a1a1a" stroke-width="0.25" textLength="46.5" lengthAdjust="spacingAndGlyphs">D2-<tspan font-style="italic">mdx</tspan></text>
<path d="M545.6 68.8H590.3" stroke="#fcab9e" stroke-width="1.9"/>
<circle cx="568.4" cy="68.8" r="4.15" fill="#fcab9e"/>
<text x="598.7" y="74.3" font-size="12.5" stroke="#1a1a1a" stroke-width="0.25" textLength="41" lengthAdjust="spacingAndGlyphs">D2-WT</text>
<text x="10.9" y="72.2" font-size="21.5" stroke="#000" stroke-width="0.45" textLength="12.6" lengthAdjust="spacingAndGlyphs">A</text>
<text x="0.6" y="294.0" font-size="21.5" stroke="#000" stroke-width="0.45" textLength="12.4" lengthAdjust="spacingAndGlyphs">B</text>
<text x="0.1" y="504.0" font-size="21.5" stroke="#000" stroke-width="0.45" textLength="13.2" lengthAdjust="spacingAndGlyphs">C</text>
</svg>
</body></html>
